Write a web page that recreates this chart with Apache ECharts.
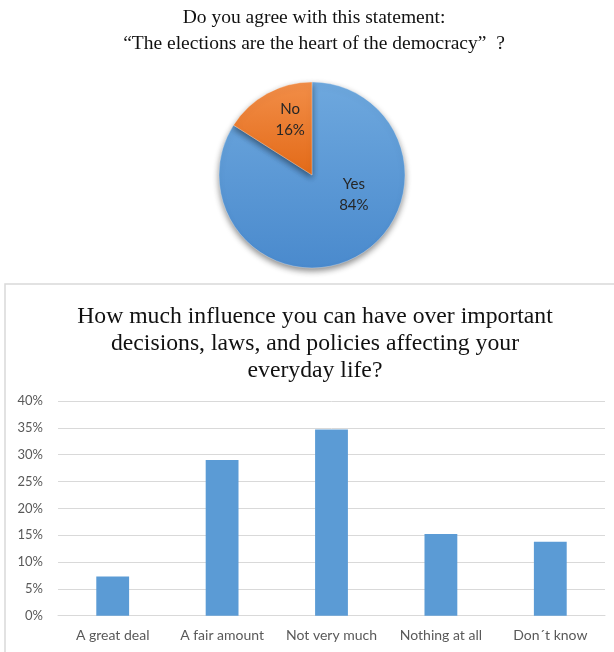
<!DOCTYPE html>
<html>
<head>
<meta charset="utf-8">
<style>
  html, body { margin: 0; padding: 0; background: #ffffff; }
  #chart { width: 614px; height: 652px; }
</style>
<script src="https://cdn.jsdelivr.net/npm/echarts@6/dist/echarts.min.js"></script>
</head>
<body>
<div id="chart"></div>
<script>
// Survey question 1: agreement with the statement
const pieCategories = ['Yes', 'No'];
const pieValues = [84, 16];

// Survey question 2: perceived influence (percent of respondents)
const barCategories = ['A great deal', 'A fair amount', 'Not very much', 'Nothing at all', 'Don\u00b4t know'];
const barValues = [7.3, 29.0, 34.7, 15.2, 13.8];

// Y axis ticks (percent)
const yMin = 0, yMax = 40, yStep = 5;

const serif = '"Liberation Serif", "DejaVu Serif", serif';
const sans = 'Lato, "Open Sans", sans-serif';

const blueFill = new echarts.graphic.LinearGradient(0, 0, 0, 1, [
  { offset: 0, color: '#6ea8de' },
  { offset: 1, color: '#4a8acd' }
]);
const orangeFill = new echarts.graphic.LinearGradient(0, 0, 0, 1, [
  { offset: 0, color: '#f28e48' },
  { offset: 1, color: '#e36a18' }
]);
const sliceFills = [blueFill, orangeFill];
// nudges for the in-slice labels
const pieLabelShift = [{ dx: 18, dy: -24 }, { dx: 2, dy: -12 }];

const chart = echarts.init(document.getElementById('chart'), null, { renderer: 'canvas' });

chart.setOption({
  animation: false,
  backgroundColor: '#ffffff',
  title: [
    {
      text: 'Do you agree with this statement:\n\u201cThe elections are the heart of the democracy\u201d\u2002?',
      left: 309,
      top: 0,
      textAlign: 'center',
      textStyle: { fontFamily: serif, fontSize: 19.5, fontWeight: 'normal', color: '#111111', lineHeight: 26 }
    },
    {
      text: 'How much influence you can have over important\ndecisions, laws, and policies affecting your\neveryday life?',
      left: 310,
      top: 298,
      textAlign: 'center',
      textStyle: { fontFamily: serif, fontSize: 23.7, fontWeight: 'normal', color: '#111111', lineHeight: 27 }
    }
  ],
  graphic: [
    {
      type: 'rect',
      shape: { x: 5, y: 284, width: 700, height: 500 },
      style: { fill: 'none', stroke: '#d9d9d9', lineWidth: 1.5 },
      silent: true,
      z: -1
    }
  ],
  grid: { left: 58, right: 9, top: 401, bottom: 36.3 },
  xAxis: {
    type: 'category',
    data: barCategories,
    axisLine: { show: true, lineStyle: { color: '#d9d9d9', width: 1 } },
    axisTick: { show: false },
    axisLabel: { color: '#595959', fontFamily: sans, fontSize: 14, margin: 13, interval: 0 }
  },
  yAxis: {
    type: 'value',
    min: yMin,
    max: yMax,
    interval: yStep,
    axisLine: { show: false },
    axisTick: { show: false },
    splitLine: { lineStyle: { color: '#d9d9d9', width: 1 } },
    axisLabel: { color: '#595959', fontFamily: sans, fontSize: 13, margin: 15, formatter: '{value}%' }
  },
  series: [
    {
      type: 'pie',
      center: [312, 175],
      radius: 93,
      startAngle: 90,
      clockwise: true,
      data: pieCategories.map((name, i) => ({
        name: name,
        value: pieValues[i],
        itemStyle: { color: sliceFills[i] }
      })),
      itemStyle: {
        borderColor: 'rgba(255,255,255,0.6)',
        borderWidth: 0.5,
        shadowBlur: 6,
        shadowOffsetY: 3,
        shadowColor: 'rgba(0,0,0,0.45)'
      },
      label: {
        show: true,
        position: 'inside',
        formatter: '{b}\n{d}%',
        color: '#262626',
        fontFamily: sans,
        fontSize: 15,
        lineHeight: 21
      },
      labelLine: { show: false },
      labelLayout: function (p) { return pieLabelShift[p.dataIndex]; },
      emphasis: { disabled: true }
    },
    {
      type: 'bar',
      data: barValues,
      barWidth: '30%',
      itemStyle: { color: '#5b9bd5' },
      emphasis: { disabled: true }
    }
  ]
});
</script>
</body>
</html>
